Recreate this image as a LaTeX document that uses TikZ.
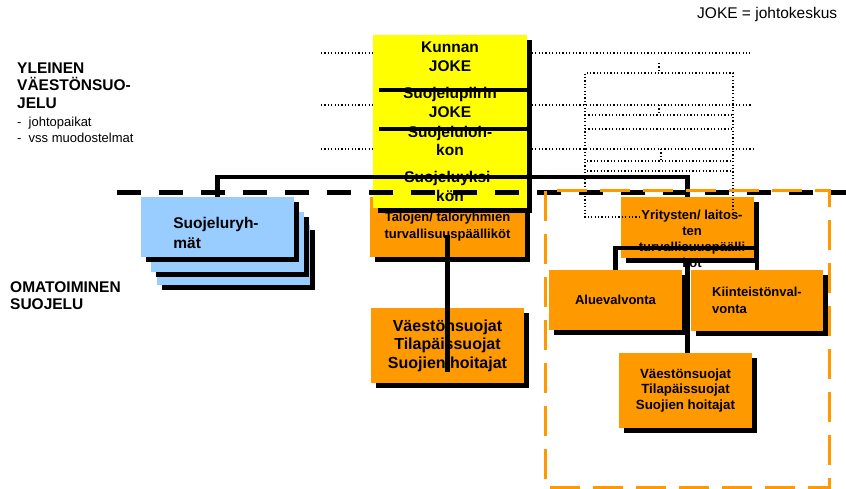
\documentclass[tikz,border=0pt]{standalone}
\usepackage{fontspec}
\setmainfont{Liberation Sans}
\usetikzlibrary{shadows}

\definecolor{vssorange}{HTML}{FF9900}
\definecolor{vssblue}{HTML}{99CCFF}
\definecolor{vssyellow}{HTML}{FFFF00}

\tikzset{
	box/.style={rectangle, inner sep=0pt, align=center,
		drop shadow={shadow xshift=5pt, shadow yshift=-5pt, fill=black, opacity=1}},
	orangebox/.style={box, fill=vssorange},
	bluebox/.style={box, fill=vssblue, minimum width=153pt, minimum height=60pt},
	heading/.style={inner sep=0pt, align=left, font=\fontsize{15.5}{17.5}\selectfont\bfseries},
	subtext/.style={inner sep=0pt, align=left, font=\fontsize{13}{16}\selectfont},
	bigbold/.style={font=\fontsize{15.5}{18.5}\selectfont\bfseries},
	midbold/.style={font=\fontsize{13}{17}\selectfont\bfseries},
	smallbold/.style={font=\fontsize{13.3}{15.5}\selectfont\bfseries},
	conn/.style={line width=4.5pt},
	dotline/.style={line width=1.2pt, dash pattern=on 1.2pt off 2.2pt},
	divider/.style={line width=5pt, dash pattern=on 24pt off 18pt},
	area/.style={draw=vssorange, line width=3pt, dash pattern=on 30pt off 13pt}
}

\begin{document}
\begin{tikzpicture}[x=1pt, y=-1pt]
	\useasboundingbox (0,0) rectangle (846,489);

	% dotted levels
	\draw[dotline] (321,53) -- (750,53);
	\draw[dotline] (321,105) -- (752,105);
	\draw[dotline] (321,149) -- (755,149);

	% texts on the left
	\node[subtext, font=\fontsize{15.5}{18}\selectfont, anchor=west] (legend) at (697,14) {JOKE = johtokeskus};
	\node[heading, anchor=west] (yleinen) at (17,85.5) {YLEINEN\\VÄESTÖNSUO-\\JELU};
	\node[subtext, anchor=west] (yleinenlist) at (17,130) {-\ \ johtopaikat\\-\ \ vss muodostelmat};
	\node[heading, anchor=west] (omatoiminen) at (10,295.5) {OMATOIMINEN\\SUOJELU};

	% command centres
	\node[orangebox, midbold, minimum width=155pt, minimum height=60pt] (talojen) at (447.5,227) {Talojen/ taloryhmien\\turvallisuuspäälliköt};
	\node[box, fill=vssyellow, minimum width=154pt, minimum height=173pt] (joke) at (450,121.5) {};
	\draw[conn] (379,90) -- (529,90);
	\draw[conn] (379,129) -- (529,129);
	\node[bigbold, inner sep=0pt, align=center] (kunnan) at (450,56.5) {Kunnan\\JOKE};
	\node[bigbold, inner sep=0pt, align=center] (piiri) at (450,102.5) {Suojelupiirin\\JOKE};
	\node[bigbold, inner sep=0pt, align=center] (lohko) at (450,141) {Suojeluloh-\\kon};
	\node[bigbold, inner sep=0pt, align=center] (yksikko) at (450,186.5) {Suojeluyksi-\\kön};

	% protection groups
	\node[bluebox] (ryhmat3) at (233,255) {};
	\node[bluebox] (ryhmat2) at (227,242) {};
	\node[bluebox] (ryhmat) at (217.5,227) {};
	\node[inner sep=0pt, align=left, font=\fontsize{15.5}{20}\selectfont\bfseries] (ryhmatteksti) at (216,233) {Suojeluryh-\\mät};

	% shelters
	\node[orangebox, font=\fontsize{16}{18.5}\selectfont\bfseries, minimum width=153pt, minimum height=75pt] (vss1) at (447.5,345.5) {Väestönsuojat\\Tilapäissuojat\\Suojien hoitajat};

	% companies
	\node[orangebox, minimum width=133pt, minimum height=61pt] (yritys) at (687.5,227.5) {};
	\node[orangebox, midbold, minimum width=133pt, minimum height=60pt] (alue) at (615.5,300) {Aluevalvonta};
	\node[orangebox, midbold, align=left, minimum width=132pt, minimum height=61pt] (kiint) at (757,300.5) {Kiinteistönval-\\vonta};
	\node[orangebox, smallbold, minimum width=133pt, minimum height=75pt] (vss2) at (685.5,390.5) {Väestönsuojat\\Tilapäissuojat\\Suojien hoitajat};
	\node[inner sep=0pt, align=center, font=\fontsize{13}{16}\selectfont\bfseries] (yritysteksti) at (692,239) {Yritysten/ laitos-\\ten\\turvallisuuspäälli\\köt};

	% dotted boxes
	\draw[dotline] (659,63) -- (659,73);
	\draw[dotline] (733,210) -- (733,73) -- (585,73) -- (585,217) -- (642,217);
	\draw[dotline] (585,115) -- (733,115);
	\draw[dotline] (585,129) -- (733,129);
	\draw[dotline] (659,105) -- (659,115);
	\draw[dotline] (661,149) -- (661,161);
	\draw[dotline] (587,161) -- (733,161);
	\draw[dotline] (587,171) -- (733,171);

	% connectors
	\coordinate (hub) at (450,177);
	\coordinate (ybar) at (687,248);
	\draw[conn] (ryhmat.north) |- (hub) -| (yritys.north);
	\draw[conn] ([yshift=-8pt]talojen.center) -- ([yshift=-26pt]vss1.center);
	\draw[conn] (alue.north) |- (ybar) -| (kiint.north);
	\draw[conn] (yritys.south) -- (yritys.south |- vss2.north);

	% border lines
	\draw[divider] (117,193) -- (846,193);
	\draw[area] (545,191) rectangle (829,487);
\end{tikzpicture}
\end{document}
